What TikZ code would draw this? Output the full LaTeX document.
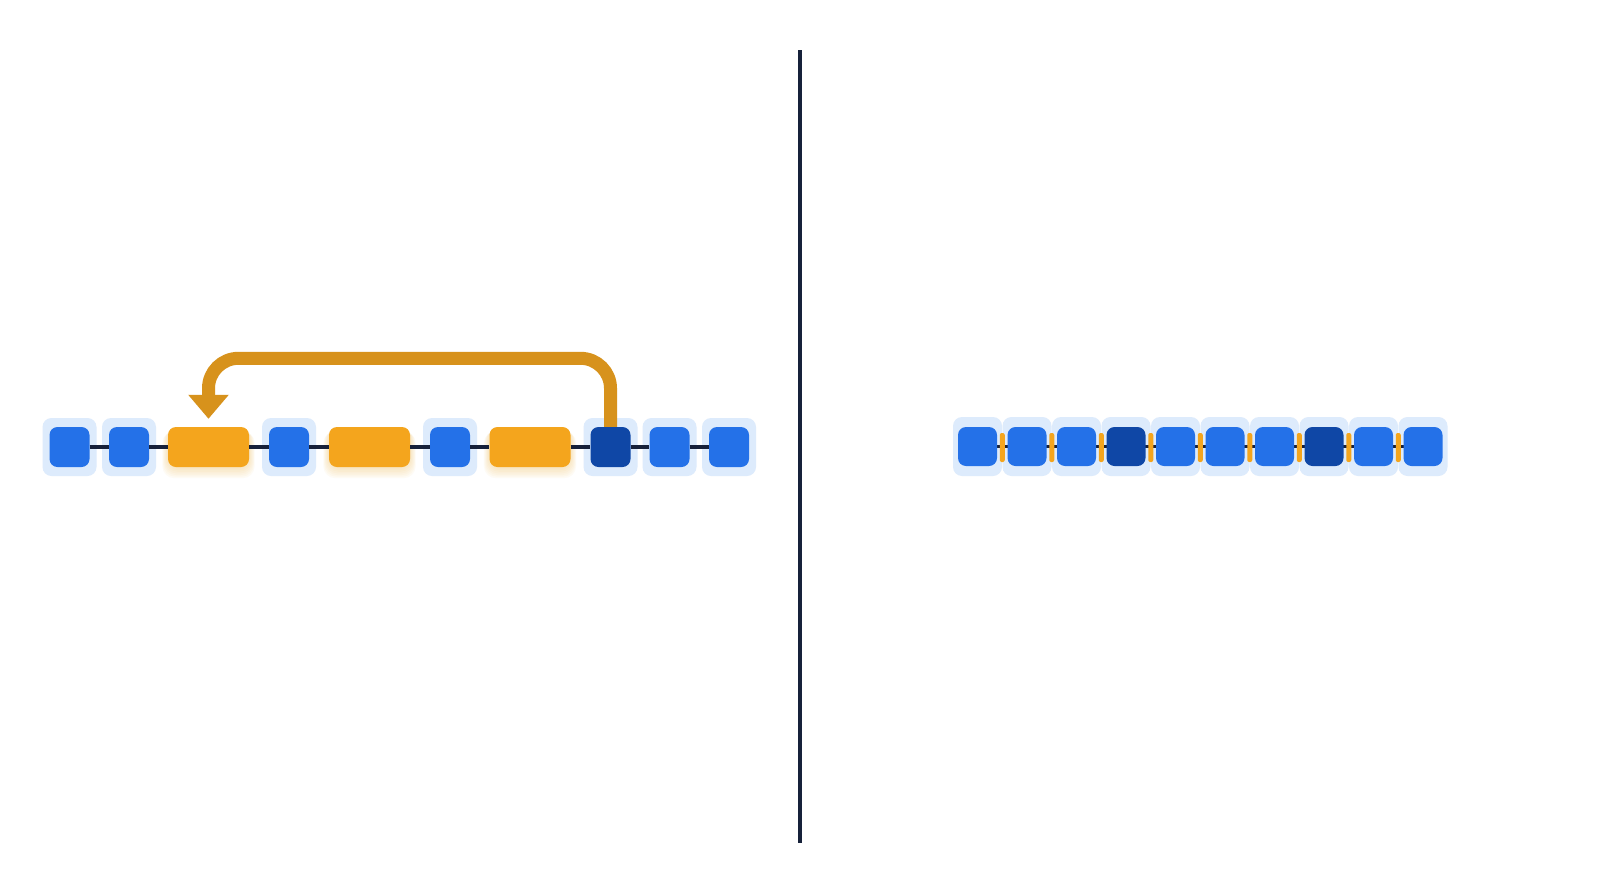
\documentclass[tikz,border=0pt]{standalone}
\usetikzlibrary{arrows.meta}
\definecolor{cblue}{HTML}{2471E8}
\definecolor{cdark}{HTML}{0F47A6}
\definecolor{chalo}{HTML}{DDEBFC}
\definecolor{corange}{HTML}{F4A51D}
\definecolor{carrow}{HTML}{D7921C}
\definecolor{cglow}{HTML}{F8C870}
\definecolor{cline}{HTML}{17213A}
\begin{document}
\begin{tikzpicture}[x=1pt,y=-1pt,
  halo/.style={fill=chalo, rounded corners=9pt, minimum width=54pt, minimum height=58pt, inner sep=0pt},
  rhalo/.style={fill=chalo, rounded corners=9pt, minimum width=49pt, minimum height=59pt, inner sep=0pt},
  bsq/.style={fill=cblue, rounded corners=8pt, minimum size=40pt, inner sep=0pt},
  rsq/.style={fill=cblue, rounded corners=8pt, minimum width=39pt, minimum height=39pt, inner sep=0pt},
  dsq/.style={bsq, fill=cdark},
  rdsq/.style={rsq, fill=cdark},
  obox/.style={fill=corange, rounded corners=8pt, minimum width=81pt, minimum height=40pt, inner sep=0pt},
  sep/.style={fill=corange, rounded corners=2pt, minimum width=5pt, minimum height=29pt, inner sep=0pt},
  link/.style={draw=cline, line width=3.5pt},
  arr/.style={draw=carrow, line width=13pt, rounded corners=30pt, -{Triangle[width=39pt,length=24pt]}, shorten >=8pt},
  divider/.style={draw=cline, line width=4pt}]
\useasboundingbox[fill=white] (0,0) rectangle (1600,894);

% divider
\coordinate (vt) at (800,50);
\coordinate (vb) at (800,843);
\draw[divider] (vt) -- (vb);

% ---------- left row ----------
\foreach \n/\x in {h1/69.5,h2/129,h4/289,h6/450,h8/610.5,h9/669.5,h10/729}
  \node[halo] (\n) at (\x,447) {};
% glow under orange boxes
\foreach \x in {208.5,369.5,530}
  \foreach \i in {1,...,7}
    \fill[cglow, opacity=0.07, rounded corners=12pt]
      ({\x-40.5-0.8*\i},{427+0.6*\i}) rectangle ({\x+40.5+0.8*\i},{467+1.6*\i});

\node[bsq] (l1) at (69.5,447) {};
\node[bsq] (l2) at (129,447) {};
\node[obox] (o1) at (208.5,447) {};
\node[bsq] (l4) at (289,447) {};
\node[obox] (o2) at (369.5,447) {};
\node[bsq] (l6) at (450,447) {};
\node[obox] (o3) at (530,447) {};
\node[dsq] (d) at (610.5,447) {};
\node[bsq] (l9) at (669.5,447) {};
\node[bsq] (l10) at (729,447) {};

\draw[link] (l1) -- (l2);
\draw[link] (l2) -- (o1);
\draw[link] (o1) -- (l4);
\draw[link] (l4) -- (o2);
\draw[link] (o2) -- (l6);
\draw[link] (l6) -- (o3);
\draw[link] (o3) -- (d);
\draw[link] (d) -- (l9);
\draw[link] (l9) -- (l10);

\draw[arr] (d.north) -- ++(0,-68.5) -| (o1.north);

% ---------- right row ----------
\foreach \i in {1,...,10}
  \node[rhalo] (rh\i) at ({977.5+49.5*(\i-1)},446.5) {};
\draw[link] (rh1.center) -- (rh10.center);
\foreach \i in {1,...,9}
  \node[sep] (s\i) at ({1002.25+49.5*(\i-1)},447.5) {};
\foreach \i in {1,2,3,5,6,7,9,10}
  \node[rsq] (r\i) at ({977.5+49.5*(\i-1)},446.5) {};
\foreach \i in {4,8}
  \node[rdsq] (r\i) at ({977.5+49.5*(\i-1)},446.5) {};
\end{tikzpicture}
\end{document}
